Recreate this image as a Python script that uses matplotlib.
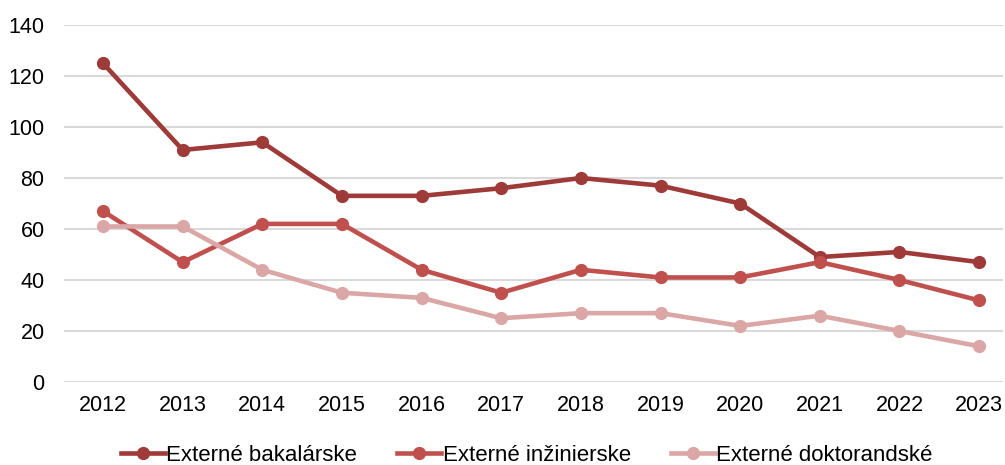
import numpy as np
import matplotlib.pyplot as plt

plt.rcParams['font.family'] = ['Liberation Sans', 'DejaVu Sans']

years = ['2012', '2013', '2014', '2015', '2016', '2017', '2018', '2019', '2020', '2021', '2022', '2023']
bakalarske = [125, 91, 94, 73, 73, 76, 80, 77, 70, 49, 51, 47]
inzinierske = [67, 47, 62, 62, 44, 35, 44, 41, 41, 47, 40, 32]
doktorandske = [61, 61, 44, 35, 33, 25, 27, 27, 22, 26, 20, 14]

names = ['Externé bakalárske', 'Externé inžinierske', 'Externé doktorandské']
colors = ['#9E3A38', '#C0504D', '#DBA7A6']

fig = plt.figure(figsize=(10.05, 4.65), dpi=100)
ax = fig.add_axes([64/1005, 1 - 382/465, (1003-64)/1005, (382-25)/465])

x = np.arange(len(years))
for vals, name, c in zip([bakalarske, inzinierske, doktorandske], names, colors):
    ax.plot(x, vals, color=c, lw=3.3, marker='o', ms=8.5, label=name, zorder=3)

ax.set_ylim(0, 140)
ax.set_yticks(range(0, 141, 20))
ax.set_xlim(-0.49, 11.30)
ax.set_xticks(x)
ax.set_xticklabels(years)
ax.grid(axis='y', color='#D9D9D9', lw=1.5, zorder=0)
for s in ax.spines.values():
    s.set_visible(False)
ax.tick_params(length=0, labelsize=15.5, colors='#000000')
ax.tick_params(axis='y', pad=14)
ax.tick_params(axis='x', pad=9)

fig.legend(loc='center', bbox_to_anchor=(0.524, 1 - 455/465), ncol=3, frameon=False,
           fontsize=16, handlelength=2.0, handletextpad=0.05, columnspacing=1.8)

fig.savefig('out.png', dpi=100)
